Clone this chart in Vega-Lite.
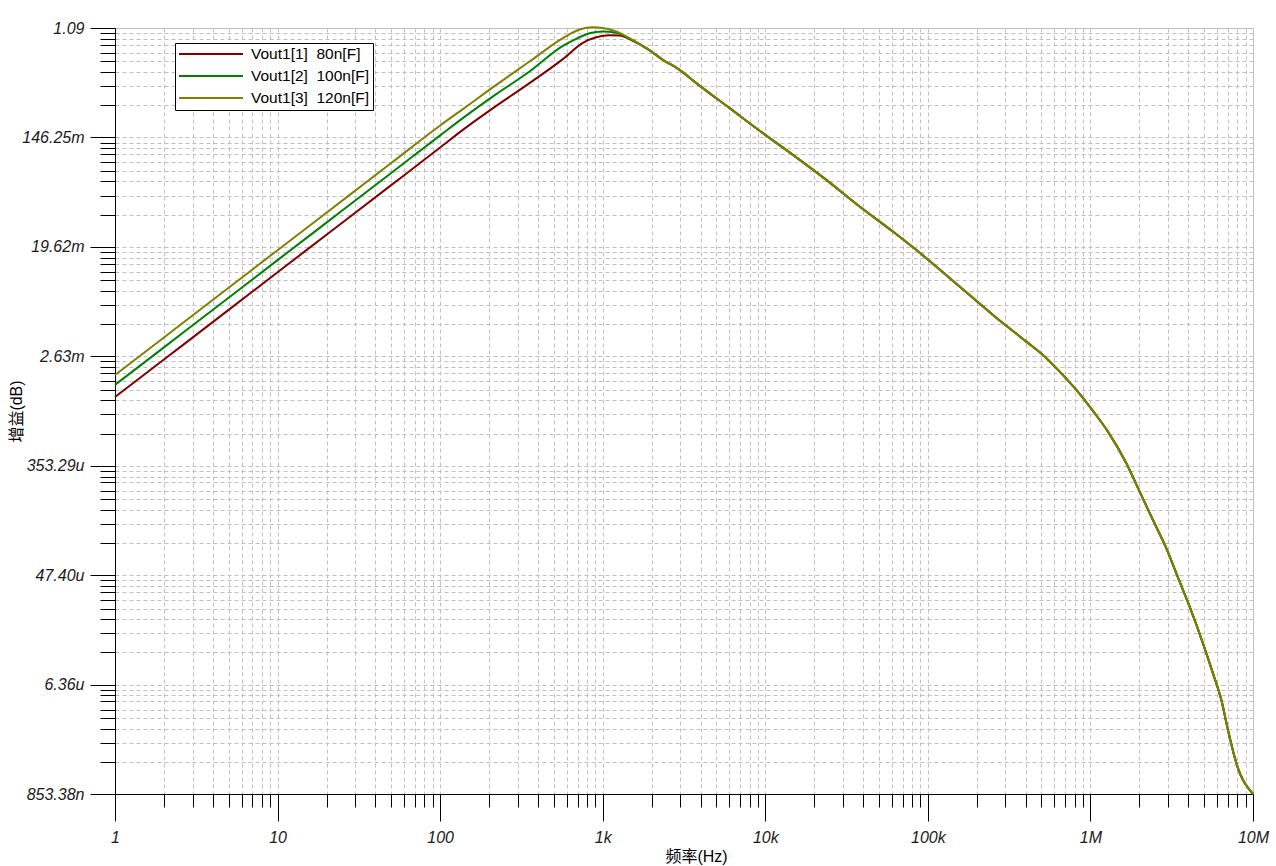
{
  "$schema": "https://vega.github.io/schema/vega-lite/v6.json",
  "width": 1138,
  "height": 766,
  "autosize": {"type": "none"},
  "padding": {"left": 115, "top": 28, "right": 23, "bottom": 72},
  "background": "white",
  "config": {
    "view": {"stroke": "#c0c0c0", "strokeWidth": 1},
    "axis": {
      "domainColor": "black",
      "domainWidth": 1,
      "tickColor": "black",
      "tickWidth": 1,
      "gridColor": "#c0c0c0",
      "gridDash": [4, 3],
      "gridWidth": 1,
      "labelFont": "Liberation Sans",
      "labelFontStyle": "italic",
      "labelFontSize": 16,
      "labelColor": "#1a1a1a",
      "labelOverlap": false,
      "labelFlush": false,
      "labelBound": false,
      "titleFont": "Liberation Sans, Noto Sans CJK SC",
      "titleFontSize": 16,
      "titleFontWeight": "normal",
      "titleColor": "black"
    }
  },
  "data": {
    "values": [
      {"s": "Vout1[1]\u00a0 80n[F]", "f": 1, "v": 0.001246},
      {"s": "Vout1[1]\u00a0 80n[F]", "f": 2, "v": 0.002481},
      {"s": "Vout1[1]\u00a0 80n[F]", "f": 5, "v": 0.006167},
      {"s": "Vout1[1]\u00a0 80n[F]", "f": 10, "v": 0.0123},
      {"s": "Vout1[1]\u00a0 80n[F]", "f": 20, "v": 0.02449},
      {"s": "Vout1[1]\u00a0 80n[F]", "f": 50, "v": 0.06089},
      {"s": "Vout1[1]\u00a0 80n[F]", "f": 100, "v": 0.1215},
      {"s": "Vout1[1]\u00a0 80n[F]", "f": 137.9, "v": 0.168},
      {"s": "Vout1[1]\u00a0 80n[F]", "f": 221.4, "v": 0.2611},
      {"s": "Vout1[1]\u00a0 80n[F]", "f": 354.8, "v": 0.3961},
      {"s": "Vout1[1]\u00a0 80n[F]", "f": 568.7, "v": 0.6155},
      {"s": "Vout1[1]\u00a0 80n[F]", "f": 754.8, "v": 0.8302},
      {"s": "Vout1[1]\u00a0 80n[F]", "f": 912.6, "v": 0.9183},
      {"s": "Vout1[1]\u00a0 80n[F]", "f": 1102, "v": 0.9528},
      {"s": "Vout1[1]\u00a0 80n[F]", "f": 1269, "v": 0.95},
      {"s": "Vout1[1]\u00a0 80n[F]", "f": 1533, "v": 0.8613},
      {"s": "Vout1[1]\u00a0 80n[F]", "f": 1853, "v": 0.7534},
      {"s": "Vout1[1]\u00a0 80n[F]", "f": 2344, "v": 0.6077},
      {"s": "Vout1[1]\u00a0 80n[F]", "f": 2970, "v": 0.5058},
      {"s": "Vout1[1]\u00a0 80n[F]", "f": 3763, "v": 0.3961},
      {"s": "Vout1[1]\u00a0 80n[F]", "f": 6031, "v": 0.2503},
      {"s": "Vout1[1]\u00a0 80n[F]", "f": 9665, "v": 0.1581},
      {"s": "Vout1[1]\u00a0 80n[F]", "f": 14787, "v": 0.1062},
      {"s": "Vout1[1]\u00a0 80n[F]", "f": 23727, "v": 0.0671},
      {"s": "Vout1[1]\u00a0 80n[F]", "f": 38030, "v": 0.0411},
      {"s": "Vout1[1]\u00a0 80n[F]", "f": 60953, "v": 0.02597},
      {"s": "Vout1[1]\u00a0 80n[F]", "f": 97837, "v": 0.01594},
      {"s": "Vout1[1]\u00a0 80n[F]", "f": 156800, "v": 0.009459},
      {"s": "Vout1[1]\u00a0 80n[F]", "f": 251300, "v": 0.005626},
      {"s": "Vout1[1]\u00a0 80n[F]", "f": 403400, "v": 0.003445},
      {"s": "Vout1[1]\u00a0 80n[F]", "f": 510500, "v": 0.002698},
      {"s": "Vout1[1]\u00a0 80n[F]", "f": 646500, "v": 0.001986},
      {"s": "Vout1[1]\u00a0 80n[F]", "f": 819000, "v": 0.001419},
      {"s": "Vout1[1]\u00a0 80n[F]", "f": 1036000, "v": 0.0009651},
      {"s": "Vout1[1]\u00a0 80n[F]", "f": 1281000, "v": 0.00066},
      {"s": "Vout1[1]\u00a0 80n[F]", "f": 1663000, "v": 0.0003694},
      {"s": "Vout1[1]\u00a0 80n[F]", "f": 2008000, "v": 0.0002193},
      {"s": "Vout1[1]\u00a0 80n[F]", "f": 2424000, "v": 0.0001304},
      {"s": "Vout1[1]\u00a0 80n[F]", "f": 2931000, "v": 0.00007757},
      {"s": "Vout1[1]\u00a0 80n[F]", "f": 3539000, "v": 0.000042},
      {"s": "Vout1[1]\u00a0 80n[F]", "f": 4077000, "v": 0.00002655},
      {"s": "Vout1[1]\u00a0 80n[F]", "f": 4922000, "v": 0.00001355},
      {"s": "Vout1[1]\u00a0 80n[F]", "f": 5671000, "v": 0.00000781},
      {"s": "Vout1[1]\u00a0 80n[F]", "f": 6388000, "v": 0.000004785},
      {"s": "Vout1[1]\u00a0 80n[F]", "f": 7015000, "v": 0.000002759},
      {"s": "Vout1[1]\u00a0 80n[F]", "f": 7903000, "v": 0.000001497},
      {"s": "Vout1[1]\u00a0 80n[F]", "f": 10000000, "v": 0.000000854},

      {"s": "Vout1[2]\u00a0 100n[F]", "f": 1, "v": 0.001557},
      {"s": "Vout1[2]\u00a0 100n[F]", "f": 2, "v": 0.003101},
      {"s": "Vout1[2]\u00a0 100n[F]", "f": 5, "v": 0.00771},
      {"s": "Vout1[2]\u00a0 100n[F]", "f": 10, "v": 0.01538},
      {"s": "Vout1[2]\u00a0 100n[F]", "f": 20, "v": 0.03062},
      {"s": "Vout1[2]\u00a0 100n[F]", "f": 50, "v": 0.07612},
      {"s": "Vout1[2]\u00a0 100n[F]", "f": 100, "v": 0.1518},
      {"s": "Vout1[2]\u00a0 100n[F]", "f": 137.9, "v": 0.2084},
      {"s": "Vout1[2]\u00a0 100n[F]", "f": 221.4, "v": 0.3236},
      {"s": "Vout1[2]\u00a0 100n[F]", "f": 354.8, "v": 0.4901},
      {"s": "Vout1[2]\u00a0 100n[F]", "f": 568.7, "v": 0.7858},
      {"s": "Vout1[2]\u00a0 100n[F]", "f": 687.8, "v": 0.8935},
      {"s": "Vout1[2]\u00a0 100n[F]", "f": 829.5, "v": 0.9883},
      {"s": "Vout1[2]\u00a0 100n[F]", "f": 998, "v": 1.0216},
      {"s": "Vout1[2]\u00a0 100n[F]", "f": 1211, "v": 0.9975},
      {"s": "Vout1[2]\u00a0 100n[F]", "f": 1463, "v": 0.8968},
      {"s": "Vout1[2]\u00a0 100n[F]", "f": 1853, "v": 0.7534},
      {"s": "Vout1[2]\u00a0 100n[F]", "f": 2344, "v": 0.6077},
      {"s": "Vout1[2]\u00a0 100n[F]", "f": 2970, "v": 0.5058},
      {"s": "Vout1[2]\u00a0 100n[F]", "f": 3763, "v": 0.3961},
      {"s": "Vout1[2]\u00a0 100n[F]", "f": 6031, "v": 0.2503},
      {"s": "Vout1[2]\u00a0 100n[F]", "f": 9665, "v": 0.1581},
      {"s": "Vout1[2]\u00a0 100n[F]", "f": 14787, "v": 0.1062},
      {"s": "Vout1[2]\u00a0 100n[F]", "f": 23727, "v": 0.0671},
      {"s": "Vout1[2]\u00a0 100n[F]", "f": 38030, "v": 0.0411},
      {"s": "Vout1[2]\u00a0 100n[F]", "f": 60953, "v": 0.02597},
      {"s": "Vout1[2]\u00a0 100n[F]", "f": 97837, "v": 0.01594},
      {"s": "Vout1[2]\u00a0 100n[F]", "f": 156800, "v": 0.009459},
      {"s": "Vout1[2]\u00a0 100n[F]", "f": 251300, "v": 0.005626},
      {"s": "Vout1[2]\u00a0 100n[F]", "f": 403400, "v": 0.003445},
      {"s": "Vout1[2]\u00a0 100n[F]", "f": 510500, "v": 0.002698},
      {"s": "Vout1[2]\u00a0 100n[F]", "f": 646500, "v": 0.001986},
      {"s": "Vout1[2]\u00a0 100n[F]", "f": 819000, "v": 0.001419},
      {"s": "Vout1[2]\u00a0 100n[F]", "f": 1036000, "v": 0.0009651},
      {"s": "Vout1[2]\u00a0 100n[F]", "f": 1281000, "v": 0.00066},
      {"s": "Vout1[2]\u00a0 100n[F]", "f": 1663000, "v": 0.0003694},
      {"s": "Vout1[2]\u00a0 100n[F]", "f": 2008000, "v": 0.0002193},
      {"s": "Vout1[2]\u00a0 100n[F]", "f": 2424000, "v": 0.0001304},
      {"s": "Vout1[2]\u00a0 100n[F]", "f": 2931000, "v": 0.00007757},
      {"s": "Vout1[2]\u00a0 100n[F]", "f": 3539000, "v": 0.000042},
      {"s": "Vout1[2]\u00a0 100n[F]", "f": 4077000, "v": 0.00002655},
      {"s": "Vout1[2]\u00a0 100n[F]", "f": 4922000, "v": 0.00001355},
      {"s": "Vout1[2]\u00a0 100n[F]", "f": 5671000, "v": 0.00000781},
      {"s": "Vout1[2]\u00a0 100n[F]", "f": 6388000, "v": 0.000004785},
      {"s": "Vout1[2]\u00a0 100n[F]", "f": 7015000, "v": 0.000002759},
      {"s": "Vout1[2]\u00a0 100n[F]", "f": 7903000, "v": 0.000001497},
      {"s": "Vout1[2]\u00a0 100n[F]", "f": 10000000, "v": 0.000000854},

      {"s": "Vout1[3]\u00a0 120n[F]", "f": 1, "v": 0.001869},
      {"s": "Vout1[3]\u00a0 120n[F]", "f": 2, "v": 0.003721},
      {"s": "Vout1[3]\u00a0 120n[F]", "f": 5, "v": 0.00925},
      {"s": "Vout1[3]\u00a0 120n[F]", "f": 10, "v": 0.01845},
      {"s": "Vout1[3]\u00a0 120n[F]", "f": 20, "v": 0.03674},
      {"s": "Vout1[3]\u00a0 120n[F]", "f": 50, "v": 0.09134},
      {"s": "Vout1[3]\u00a0 120n[F]", "f": 100, "v": 0.1822},
      {"s": "Vout1[3]\u00a0 120n[F]", "f": 137.9, "v": 0.2458},
      {"s": "Vout1[3]\u00a0 120n[F]", "f": 221.4, "v": 0.3838},
      {"s": "Vout1[3]\u00a0 120n[F]", "f": 354.8, "v": 0.589},
      {"s": "Vout1[3]\u00a0 120n[F]", "f": 568.7, "v": 0.9052},
      {"s": "Vout1[3]\u00a0 120n[F]", "f": 720.3, "v": 1.06},
      {"s": "Vout1[3]\u00a0 120n[F]", "f": 869.7, "v": 1.103},
      {"s": "Vout1[3]\u00a0 120n[F]", "f": 1002, "v": 1.09},
      {"s": "Vout1[3]\u00a0 120n[F]", "f": 1211, "v": 1.0216},
      {"s": "Vout1[3]\u00a0 120n[F]", "f": 1463, "v": 0.9052},
      {"s": "Vout1[3]\u00a0 120n[F]", "f": 1853, "v": 0.7534},
      {"s": "Vout1[3]\u00a0 120n[F]", "f": 2344, "v": 0.6077},
      {"s": "Vout1[3]\u00a0 120n[F]", "f": 2970, "v": 0.5058},
      {"s": "Vout1[3]\u00a0 120n[F]", "f": 3763, "v": 0.3961},
      {"s": "Vout1[3]\u00a0 120n[F]", "f": 6031, "v": 0.2503},
      {"s": "Vout1[3]\u00a0 120n[F]", "f": 9665, "v": 0.1581},
      {"s": "Vout1[3]\u00a0 120n[F]", "f": 14787, "v": 0.1062},
      {"s": "Vout1[3]\u00a0 120n[F]", "f": 23727, "v": 0.0671},
      {"s": "Vout1[3]\u00a0 120n[F]", "f": 38030, "v": 0.0411},
      {"s": "Vout1[3]\u00a0 120n[F]", "f": 60953, "v": 0.02597},
      {"s": "Vout1[3]\u00a0 120n[F]", "f": 97837, "v": 0.01594},
      {"s": "Vout1[3]\u00a0 120n[F]", "f": 156800, "v": 0.009459},
      {"s": "Vout1[3]\u00a0 120n[F]", "f": 251300, "v": 0.005626},
      {"s": "Vout1[3]\u00a0 120n[F]", "f": 403400, "v": 0.003445},
      {"s": "Vout1[3]\u00a0 120n[F]", "f": 510500, "v": 0.002698},
      {"s": "Vout1[3]\u00a0 120n[F]", "f": 646500, "v": 0.001986},
      {"s": "Vout1[3]\u00a0 120n[F]", "f": 819000, "v": 0.001419},
      {"s": "Vout1[3]\u00a0 120n[F]", "f": 1036000, "v": 0.0009651},
      {"s": "Vout1[3]\u00a0 120n[F]", "f": 1281000, "v": 0.00066},
      {"s": "Vout1[3]\u00a0 120n[F]", "f": 1663000, "v": 0.0003694},
      {"s": "Vout1[3]\u00a0 120n[F]", "f": 2008000, "v": 0.0002193},
      {"s": "Vout1[3]\u00a0 120n[F]", "f": 2424000, "v": 0.0001304},
      {"s": "Vout1[3]\u00a0 120n[F]", "f": 2931000, "v": 0.00007757},
      {"s": "Vout1[3]\u00a0 120n[F]", "f": 3539000, "v": 0.000042},
      {"s": "Vout1[3]\u00a0 120n[F]", "f": 4077000, "v": 0.00002655},
      {"s": "Vout1[3]\u00a0 120n[F]", "f": 4922000, "v": 0.00001355},
      {"s": "Vout1[3]\u00a0 120n[F]", "f": 5671000, "v": 0.00000781},
      {"s": "Vout1[3]\u00a0 120n[F]", "f": 6388000, "v": 0.000004785},
      {"s": "Vout1[3]\u00a0 120n[F]", "f": 7015000, "v": 0.000002759},
      {"s": "Vout1[3]\u00a0 120n[F]", "f": 7903000, "v": 0.000001497},
      {"s": "Vout1[3]\u00a0 120n[F]", "f": 10000000, "v": 0.000000854}
    ]
  },
  "mark": {"type": "line", "strokeWidth": 2, "clip": false, "interpolate": "monotone"},
  "encoding": {
    "x": {
      "field": "f",
      "type": "quantitative",
      "title": "频率(Hz)",
      "scale": {"type": "log", "domain": [1, 10000000], "nice": false},
      "axis": {
        "values": [1,2,3,4,5,6,7,8,9,10,20,30,40,50,60,70,80,90,100,200,300,400,500,600,700,800,900,1000,2000,3000,4000,5000,6000,7000,8000,9000,10000,20000,30000,40000,50000,60000,70000,80000,90000,100000,200000,300000,400000,500000,600000,700000,800000,900000,1000000,2000000,3000000,4000000,5000000,6000000,7000000,8000000,9000000,10000000],
        "labelExpr": "indexof([1,10,100,1000,10000,100000,1000000,10000000], datum.value) >= 0 ? (datum.value >= 1000000 ? (datum.value/1000000) + 'M' : datum.value >= 1000 ? (datum.value/1000) + 'k' : '' + datum.value) : ''",
        "tickSize": {"condition": {"test": "indexof([1,10,100,1000,10000,100000,1000000,10000000], datum.value) >= 0", "value": 27}, "value": 13},
        "labelPadding": 8,
        "titlePadding": 3,
        "titleX": 581
      }
    },
    "y": {
      "field": "v",
      "type": "quantitative",
      "title": "增益(dB)",
      "scale": {"type": "log", "domain": [8.5338e-7, 1.0895], "nice": false, "zero": false},
      "axis": {
        "values": [1.0895,0.9914,0.8934,0.8008,0.6886,0.5905,0.4859,0.3748,0.2637,
                   0.14625,0.13309,0.11993,0.10749,0.09243,0.07927,0.06523,0.05031,0.03539,
                   0.01962,0.017854,0.016088,0.014421,0.0124,0.010634,0.0087505,0.0067493,0.004748,
                   0.00263,0.0023933,0.0021566,0.0019331,0.0016622,0.0014255,0.001173,0.00090472,0.00063646,
                   0.00035329,0.00032149,0.0002897,0.00025967,0.00022328,0.00019148,0.00015757,0.00012153,0.000085496,
                   0.0000474,0.000043134,0.000038868,0.000034839,0.000029957,0.000025691,0.00002114,0.000016306,0.000011471,
                   0.00000636,0.0000057876,0.0000052152,0.0000046746,0.0000040195,0.0000034471,0.0000028366,0.0000021878,0.0000015391,
                   8.5338e-7],
        "labelExpr": "datum.value == 1.0895 ? '1.09' : datum.value == 0.14625 ? '146.25m' : datum.value == 0.01962 ? '19.62m' : datum.value == 0.00263 ? '2.63m' : datum.value == 0.00035329 ? '353.29u' : datum.value == 0.0000474 ? '47.40u' : datum.value == 0.00000636 ? '6.36u' : datum.value == 8.5338e-7 ? '853.38n' : ''",
        "tickSize": {"condition": {"test": "indexof([1.0895,0.14625,0.01962,0.00263,0.00035329,0.0000474,0.00000636,8.5338e-7], datum.value) >= 0", "value": 25}, "value": 15},
        "labelPadding": 6,
        "titlePadding": -3
      }
    },
    "color": {
      "field": "s",
      "type": "nominal",
      "sort": ["Vout1[1]\u00a0 80n[F]", "Vout1[2]\u00a0 100n[F]", "Vout1[3]\u00a0 120n[F]"],
      "scale": {"domain": ["Vout1[1]\u00a0 80n[F]", "Vout1[2]\u00a0 100n[F]", "Vout1[3]\u00a0 120n[F]"], "range": ["#800000", "#008000", "#808000"]},
      "legend": {
        "title": null,
        "orient": "none",
        "legendX": 60,
        "legendY": 15,
        "symbolType": "stroke",
        "symbolSize": 4096,
        "symbolStrokeWidth": 2,
        "labelFont": "Liberation Sans",
        "labelFontSize": 15.5,
        "labelColor": "black",
        "labelLimit": 400,
        "labelOffset": 7,
        "strokeColor": "black",
        "fillColor": "white",
        "padding": 3,
        "rowPadding": 5,
        "encode": {
          "symbols": {"update": {"y": {"value": 8}}},
          "labels": {"update": {"y": {"value": 8}}}
        }
      }
    }
  }
}
